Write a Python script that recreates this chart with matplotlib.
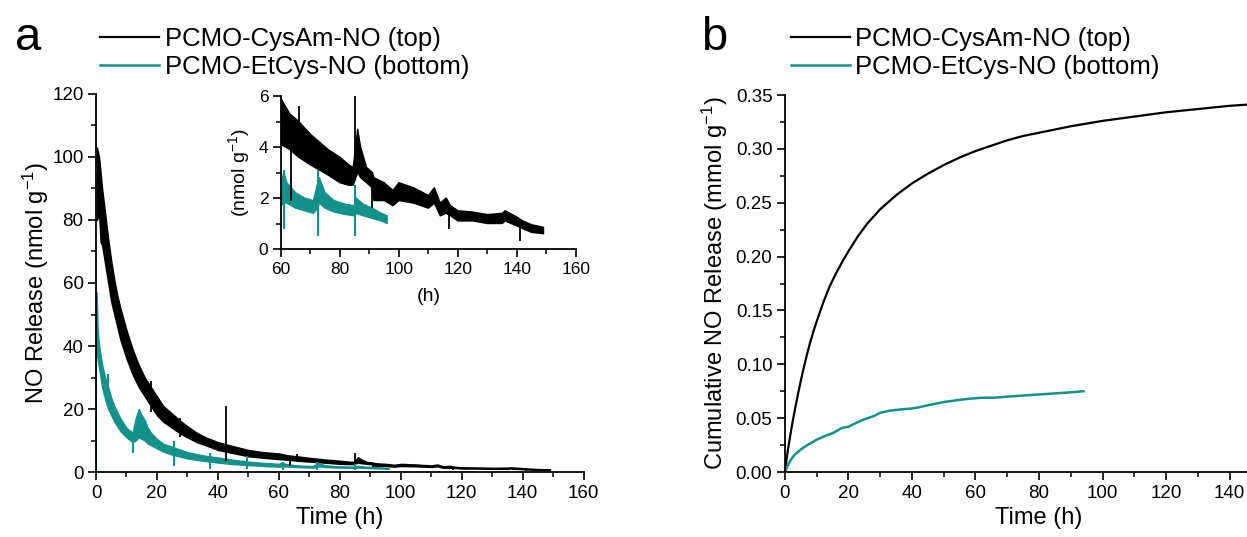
import matplotlib.pyplot as plt
import numpy as np
from matplotlib.lines import Line2D
from matplotlib.ticker import MultipleLocator, FixedLocator

plt.rcParams['font.family'] = ['Liberation Sans', 'DejaVu Sans']
plt.rcParams['mathtext.fontset'] = 'custom'
plt.rcParams['mathtext.rm'] = 'Liberation Sans'
plt.rcParams['mathtext.it'] = 'Liberation Sans:italic'

black = 'black'
teal = '#13918b'

# --- panel a: NO release, band = lower/upper envelope of the noisy trace ---
t_top = [0.3, 1, 1.5, 2, 3, 4, 5, 6, 7, 8, 10, 12, 14, 16, 18, 20, 22, 25, 28, 30,
         33, 36, 40, 45, 50, 55, 60, 63, 66, 70, 73, 76, 80, 83, 84.5, 86, 87, 89,
         91, 91.5, 95, 98, 100, 105, 110, 112, 114, 116, 117.5, 120, 125, 130, 135,
         136, 140, 142, 145, 149]
lo_top = [80, 82, 73, 72, 66, 60, 54, 50, 46, 42, 36, 31, 27, 24, 21, 18, 16, 14, 12, 11,
          9.5, 8.5, 7, 6, 5, 4.5, 4.1, 3.9, 3.6, 3.3, 3.1, 2.9, 2.6, 2.5, 2.5, 3.0, 2.8, 2.6,
          2.4, 1.9, 1.9, 1.7, 1.9, 1.8, 1.6, 1.8, 1.3, 1.4, 1.3, 1.1, 1.1, 1.0, 1.0,
          1.1, 0.9, 0.8, 0.65, 0.6]
hi_top = [103, 100, 95, 90, 82, 74, 67, 61, 56, 52, 45, 39, 34, 30, 27, 24, 21, 18.5, 16, 14.5,
          12.5, 11, 9.5, 8.2, 7, 6.3, 5.9, 5.3, 5.0, 4.5, 4.2, 3.9, 3.6, 3.3, 3.2, 4.7, 4.0, 3.2,
          3.0, 2.8, 2.6, 2.3, 2.6, 2.4, 2.1, 2.4, 1.8, 2.0, 1.7, 1.5, 1.45, 1.35, 1.4,
          1.5, 1.25, 1.1, 0.95, 0.85]
spike_t_top = [18, 27.5, 42.5, 63.5, 66, 85, 91, 117, 141]
spike_lo_top = [19, 11, 3.5, 1.9, 4.3, 3.0, 1.6, 0.8, 0.3]
spike_hi_top = [29, 17, 21, 4.8, 5.6, 6.0, 2.8, 1.6, 1.1]

t_bot = [0.2, 0.5, 1, 2, 3, 4, 5, 6, 8, 10, 12, 13, 14, 15, 16, 17, 18, 20, 22, 25,
         28, 30, 35, 40, 45, 50, 55, 60, 61, 62, 65, 68, 71, 72.5, 73, 75, 78, 82,
         85, 85.5, 88, 91, 94, 96]
lo_bot = [40, 36, 33, 27, 23, 20, 18, 16, 13, 11, 9.5, 10, 11, 10.5, 10, 9, 8.5, 7.5, 6.5, 5.5,
          4.8, 4.3, 3.6, 3.0, 2.5, 2.2, 1.9, 1.7, 1.8, 1.8, 1.6, 1.5, 1.4, 1.6, 1.8, 1.6, 1.45, 1.35,
          1.3, 1.4, 1.3, 1.2, 1.1, 1.0]
hi_bot = [57, 46, 40, 34, 30, 27, 23.5, 21, 17, 14, 12.5, 17, 20, 18, 16.5, 14, 12.5, 10.5, 9, 8,
          7, 6.3, 5.3, 4.6, 3.9, 3.3, 2.9, 2.6, 3.0, 2.6, 2.2, 2.0, 1.9, 2.6, 2.8, 2.2, 1.9, 1.75,
          1.7, 2.0, 1.75, 1.6, 1.4, 1.3]
spike_t_bot = [0.1, 4, 12, 25.5, 37.5, 49.5, 61.2, 72.5, 85]
spike_lo_bot = [0, 22, 6, 2, 1, 1, 0.8, 0.5, 0.5]
spike_hi_bot = [57, 31, 11, 10, 6, 5, 3.1, 3.1, 2.5]

# --- panel b: cumulative NO release ---
t_cum_top = [0, 0.5, 1, 2, 3, 4, 5, 6, 7, 8, 9, 10, 12, 14, 16, 18, 20, 23, 26, 30, 35,
             40, 45, 50, 55, 60, 65, 70, 75, 80, 90, 100, 110, 120, 130, 140, 150, 160]
cum_top = [0, 0.012, 0.022, 0.040, 0.056, 0.071, 0.085, 0.098, 0.110, 0.121, 0.131, 0.140,
           0.157, 0.172, 0.184, 0.195, 0.205, 0.219, 0.231, 0.244, 0.257, 0.268, 0.277,
           0.285, 0.292, 0.298, 0.303, 0.308, 0.312, 0.315, 0.321, 0.326, 0.330, 0.334,
           0.337, 0.340, 0.342, 0.344]
t_cum_bot = [0, 1, 2, 3, 5, 7, 10, 13, 15, 18, 20, 22, 25, 28, 30, 33, 36, 40, 42, 45,
             50, 55, 58, 62, 66, 70, 75, 80, 85, 90, 94]
cum_bot = [0, 0.007, 0.012, 0.016, 0.021, 0.025, 0.030, 0.034, 0.036, 0.041, 0.042, 0.045,
           0.049, 0.052, 0.055, 0.057, 0.058, 0.059, 0.060, 0.062, 0.065, 0.067, 0.068,
           0.069, 0.069, 0.070, 0.071, 0.072, 0.073, 0.074, 0.075]

labels = ['PCMO-CysAm-NO (top)', 'PCMO-EtCys-NO (bottom)']


def style(ax, tick_size):
    for s in ['top', 'right']:
        ax.spines[s].set_visible(False)
    for s in ['left', 'bottom']:
        ax.spines[s].set_linewidth(1.3)
    ax.tick_params(which='major', direction='out', length=6, width=1.2,
                   labelsize=tick_size, pad=3)
    ax.tick_params(which='minor', direction='out', length=3.5, width=1.1)


def draw_release(ax):
    ax.fill_between(t_top, lo_top, hi_top, color=black, lw=1.0)
    ax.vlines(spike_t_top, spike_lo_top, spike_hi_top, color=black, lw=1.3)
    ax.fill_between(t_bot, lo_bot, hi_bot, color=teal, lw=1.0)
    ax.vlines(spike_t_bot, spike_lo_bot, spike_hi_bot, color=teal, lw=1.5)


fig = plt.figure(figsize=(12.47, 5.37), dpi=100)

# panel a
ax1 = fig.add_axes([0.077, 0.121, 0.391, 0.704])
draw_release(ax1)
ax1.set_xlim(0, 160)
ax1.set_ylim(0, 120)
ax1.xaxis.set_major_locator(MultipleLocator(20))
ax1.xaxis.set_minor_locator(MultipleLocator(10))
ax1.yaxis.set_major_locator(MultipleLocator(20))
ax1.yaxis.set_minor_locator(MultipleLocator(10))
style(ax1, 13.5)
ax1.set_xlabel('Time (h)', fontsize=17, labelpad=4)
ax1.set_ylabel('NO Release (nmol g$^{-1}$)', fontsize=17, labelpad=1)

# inset
ins = fig.add_axes([0.2253, 0.5363, 0.2366, 0.2849])
draw_release(ins)
ins.set_xlim(60, 160)
ins.set_ylim(0, 6)
ins.xaxis.set_major_locator(MultipleLocator(20))
ins.xaxis.set_minor_locator(MultipleLocator(10))
ins.yaxis.set_major_locator(MultipleLocator(2))
ins.yaxis.set_minor_locator(MultipleLocator(1))
style(ins, 12.5)
ins.set_xlabel('(h)', fontsize=14, labelpad=8)
ins.set_ylabel('(nmol g$^{-1}$)', fontsize=14, labelpad=5)

# panel b (axis runs past the right edge of the figure, as in the original)
ax2 = fig.add_axes([0.6295, 0.121, 0.4074, 0.702])
ax2.plot(t_cum_top, cum_top, color=black, lw=1.6)
ax2.plot(t_cum_bot, cum_bot, color=teal, lw=1.8)
ax2.set_xlim(0, 160)
ax2.set_ylim(0, 0.35)
ax2.xaxis.set_major_locator(FixedLocator([0, 20, 40, 60, 80, 100, 120, 140]))
ax2.xaxis.set_minor_locator(MultipleLocator(10))
ax2.yaxis.set_major_locator(MultipleLocator(0.05))
ax2.yaxis.set_minor_locator(MultipleLocator(0.025))
ax2.yaxis.set_major_formatter(plt.FormatStrFormatter('%.2f'))
style(ax2, 13.5)
ax2.set_xlabel('Time (h)', fontsize=17, labelpad=4)
ax2.set_ylabel('Cumulative NO Release (mmol g$^{-1}$)', fontsize=17, labelpad=4)

# legends and panel letters
handles = [Line2D([], [], color=black, lw=1.6), Line2D([], [], color=teal, lw=1.8)]
for x0, letter, lx in [(0.063, 'a', 0.012), (0.617, 'b', 0.562)]:
    fig.legend(handles, labels, loc='upper left', bbox_to_anchor=(x0, 0.99),
               frameon=False, fontsize=18.5, handlelength=2.3, handletextpad=0.2,
               labelspacing=0.15, borderpad=0.35)
    fig.text(lx, 0.97, letter, fontsize=34, va='top', ha='left')

fig.savefig('out.png', dpi=100)
